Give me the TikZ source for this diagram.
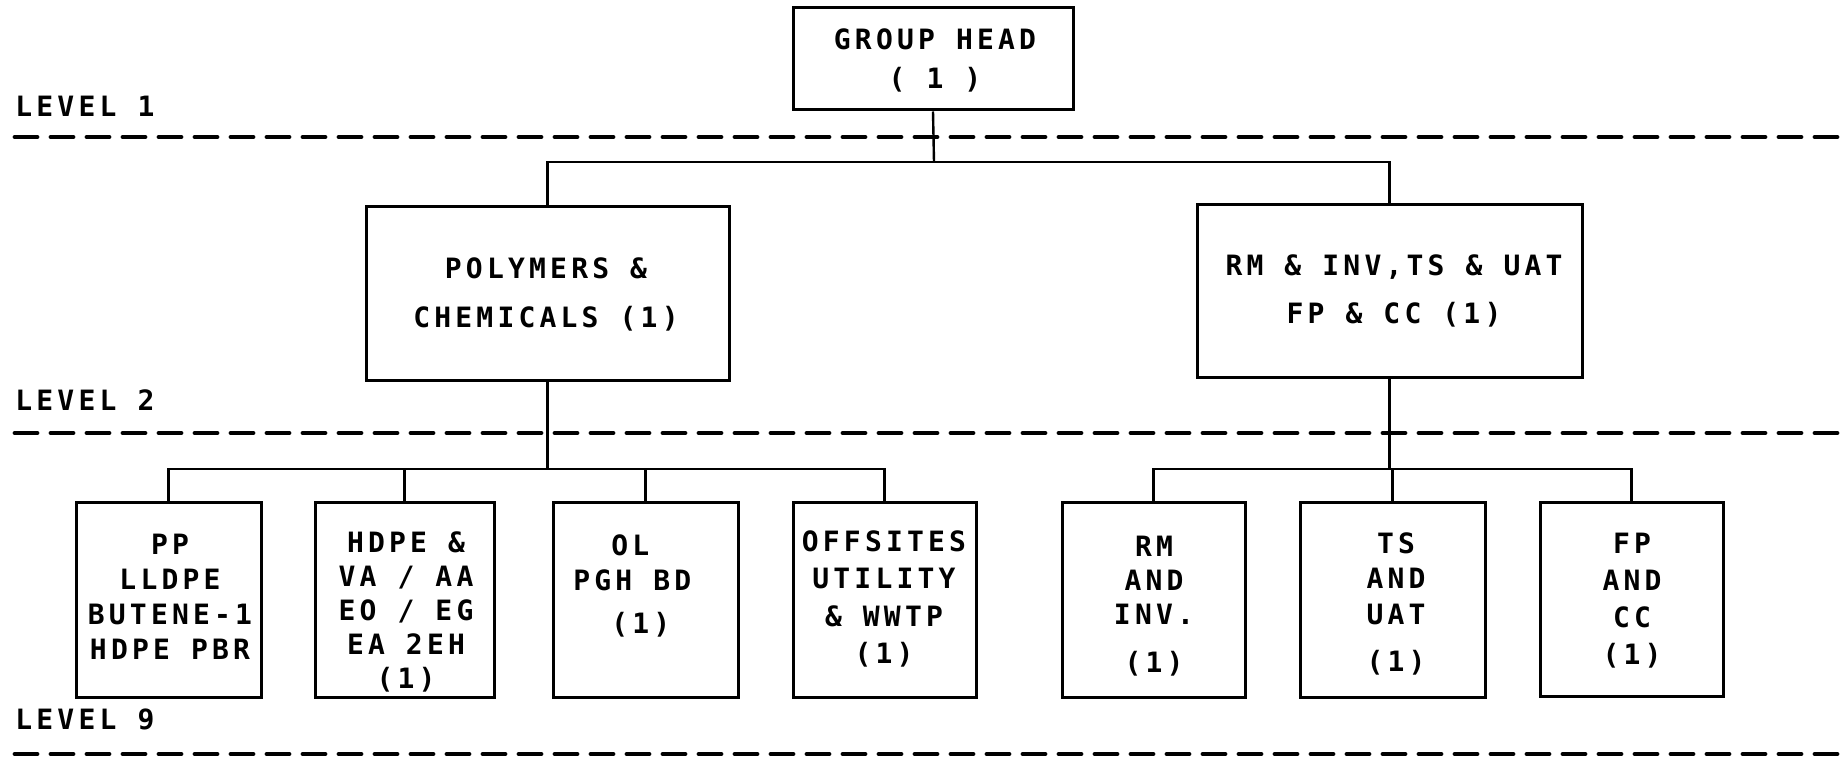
\documentclass[tikz,border=0pt]{standalone}
\usepackage{fontspec}
\usetikzlibrary{fit}
\newfontfamily\plotfont[LetterSpace=15]{DejaVu Sans Mono}
\newcommand\plotsz[1]{\plotfont\bfseries\fontsize{14}{#1}\selectfont}
\tikzset{
  boxst/.style={draw, line width=1.5pt, inner sep=0pt},
  conn/.style={line width=1.2pt},
  dashline/.style={line width=2.4pt, line cap=round, dash pattern=on 11pt off 7pt},
  lbl/.style={align=center, inner sep=0pt, font=\plotsz{18.5pt}},
  lvl/.style={inner sep=0pt, anchor=west, font=\plotsz{18pt}},
}
\begin{document}
\begin{tikzpicture}[x=0.5pt,y=-0.5pt]
\useasboundingbox (0,0) rectangle (1844,758);
% level lines
\coordinate (d1s) at (15,137);  \coordinate (d1e) at (1844,137);
\coordinate (d2s) at (15,433);  \coordinate (d2e) at (1844,433);
\coordinate (d3s) at (15,754);  \coordinate (d3e) at (1844,754);
\draw[dashline] (d1s) -- (d1e);
\draw[dashline] (d2s) -- (d2e);
\draw[dashline] (d3s) -- (d3e);
\node[lvl] (lv1) at (15,106) {LEVEL 1};
\node[lvl] (lv2) at (15,400) {LEVEL 2};
\node[lvl] (lv3) at (15,719) {LEVEL 9};
% boxes
\node[boxst, fit={(793,8) (1073,110)}] (gh) {};
\node[boxst, fit={(366,207) (729,381)}] (pc) {};
\node[boxst, fit={(1197,205) (1582,378)}] (rm) {};
\node[boxst, fit={(76,503) (261,698)}] (b1) {};
\node[boxst, fit={(315,503) (494,698)}] (b2) {};
\node[boxst, fit={(553,503) (738,698)}] (b3) {};
\node[boxst, fit={(793,503) (976,698)}] (b4) {};
\node[boxst, fit={(1062,503) (1245,698)}] (b5) {};
\node[boxst, fit={(1300,503) (1485,698)}] (b6) {};
\node[boxst, fit={(1540,503) (1723,697)}] (b7) {};
% texts
\node[lbl, font=\plotsz{19.5pt}] (tgh) at (935,60) {GROUP HEAD\\( 1 )};
\node[lbl, font=\plotsz{24.5pt}] (tpc) at (546,294) {POLYMERS \&\\CHEMICALS (1)};
\node[lbl, font=\plotsz{24pt}] (trm) at (1394,291) {RM \& INV,TS \& UAT\\FP \& CC (1)};
\node[lbl, font=\plotsz{17.5pt}] (t1) at (170,597) {PP\\LLDPE\\BUTENE-1\\HDPE PBR};
\node[lbl, font=\plotsz{16.9pt}] (t2) at (406,612) {HDPE \&\\VA / AA\\EO / EG\\EA 2EH\\(1)};
\node[lbl, align=left, anchor=west, font=\plotsz{17.5pt}] (t3) at (573,586) {\hphantom{PG}OL\\PGH BD\\[4pt]\hphantom{PG}(1)};
\node[lbl, font=\plotsz{18.7pt}] (t4) at (884,599) {OFFSITES\\UTILITY\\\& WWTP\\(1)};
\node[lbl, font=\plotsz{17pt}] (t5) at (1154,606) {RM\\AND\\INV.\\[7pt](1)};
\node[lbl, font=\plotsz{17.8pt}] (t6) at (1396,604) {TS\\AND\\UAT\\[6pt](1)};
\node[lbl, font=\plotsz{18.5pt}] (t7) at (1632,601) {FP\\AND\\CC\\(1)};
% connectors
\coordinate (j1) at (934,162);
\draw[conn] (gh.south) -- (j1);
\draw[conn] (pc.north) |- (j1);
\draw[conn] (rm.north) |- (j1);
\coordinate (j2) at (547.5,469);
\draw[conn] (pc.south) -- (j2);
\draw[conn] (b1.north) |- (j2);
\draw[conn] (b4.north) |- (j2);
\draw[conn] (b2.north) -- (b2.north |- j2);
\draw[conn] (b3.north) -- (b3.north |- j2);
\coordinate (j3) at (1389.5,469);
\draw[conn] (rm.south) -- (j3);
\draw[conn] (b5.north) |- (j3);
\draw[conn] (b7.north) |- (j3);
\draw[conn] (b6.north) -- (b6.north |- j3);
\end{tikzpicture}
\end{document}
